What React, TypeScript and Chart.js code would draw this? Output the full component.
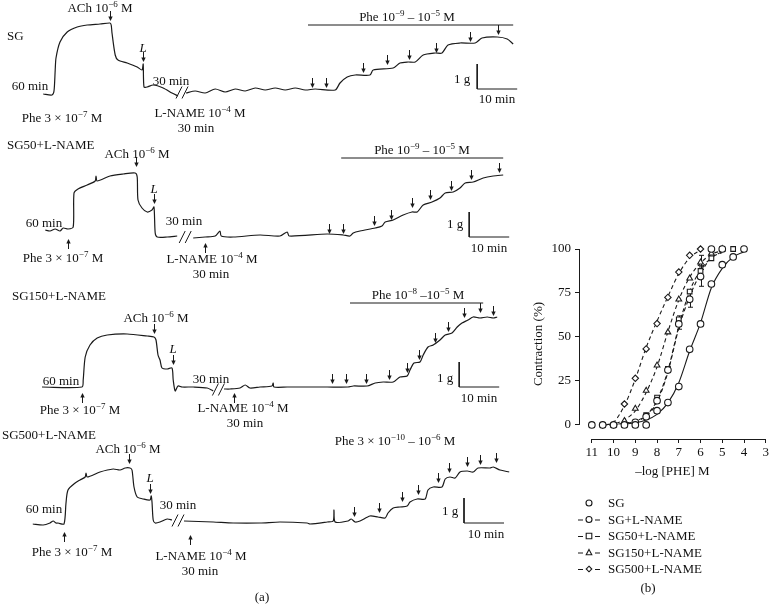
import React, { useEffect, useRef } from "react";
import { Chart, registerables } from "chart.js";
Chart.register(...registerables);

const SERIF = '"Liberation Serif", "Times New Roman", Times, serif';
const INK = "#1a1a1a";

// ================= Panel (b): concentration–response data =================
const xTicks = [11, 10, 9, 8, 7, 6, 5, 4, 3];
const yTicks = [0, 25, 50, 75, 100];
const seriesLabels = ["SG", "SG+L-NAME", "SG50+L-NAME", "SG150+L-NAME", "SG500+L-NAME"];

const sgX = [9, 8.5, 8, 7.5, 7, 6.5, 6, 5.5, 5, 4.5, 4];
const sgY = [0, 0, 8.1, 12.7, 21.8, 43, 57.4, 80.1, 91.1, 95.5, 100];
const sgErr = [0, 0, 0, 0, 0, 0, 0, 0, 0, 0, 0];
const sgFitX = [9.6, 9, 8.5, 8, 7.5, 7, 6.5, 6, 5.5, 5, 4.5, 4];
const sgFitY = [0.3, 1.2, 2.8, 6, 12.5, 24, 42, 58, 78, 89, 95.5, 98.5];

const sgLnX = [11, 10.5, 10, 9.5, 9, 8.5, 8, 7.5, 7, 6.5, 6, 5.5, 5];
const sgLnY = [0, 0, 0, 0, 1.5, 4.7, 13.8, 31.2, 57.4, 71.4, 84.3, 100, 100];
const sgLnErr = [0, 0, 0, 0, 0, 0, 0, 0, 3, 4.5, 5.5, 0, 0];
const sgLnFitX = [10, 9.5, 9, 8.5, 8, 7.5, 7, 6.5, 6, 5.5, 5];
const sgLnFitY = [0, 0.8, 2, 5, 13, 30, 55, 73, 86, 95, 98];

const sg50X = [11, 10.5, 10, 9.5, 9, 8.5, 8, 7.5, 7, 6.5, 6, 5.5, 5, 4.5];
const sg50Y = [0, 0, 0, 0, 1.3, 5.5, 15.5, 31.8, 60, 75.8, 87.5, 94.7, 100, 100];
const sg50Err = [0, 0, 0, 0, 0, 0, 0, 0, 2, 0, 3, 0, 0, 0];
const sg50FitX = [10.1, 9.5, 9, 8.5, 8, 7.5, 7, 6.5, 6, 5.5, 5];
const sg50FitY = [0, 1, 2.2, 5.5, 14, 31, 56, 76, 88, 95, 98.5];

const sg150X = [10, 9.5, 9, 8.5, 8, 7.5, 7, 6.5, 6, 5.5, 5];
const sg150Y = [0, 2.3, 9.3, 19.5, 33.9, 52.7, 71.4, 83.3, 92.4, 97.5, 100];
const sg150Err = [0, 0, 0, 0, 0, 0, 0, 0, 4, 0, 0];
const sg150FitX = [10.2, 10, 9.5, 9, 8.5, 8, 7.5, 7, 6.5, 6, 5.5, 5];
const sg150FitY = [0, 0.5, 3, 8, 18.5, 33, 53, 71, 84, 92, 97, 99];

const sg500X = [10.5, 10, 9.5, 9, 8.5, 8, 7.5, 7, 6.5, 6];
const sg500Y = [0, 0, 11.9, 26.5, 43.2, 57.6, 72.5, 86.9, 96.4, 100];
const sg500Err = [0, 0, 0, 0, 0, 0, 0, 0, 0, 0];
const sg500FitX = [10.35, 10, 9.5, 9, 8.5, 8, 7.5, 7, 6.5, 6];
const sg500FitY = [0, 1.5, 11, 26, 44, 59, 73, 86, 95, 99.5];

// ================= Panel (a): isometric tension traces (x = min, y = g) =================
const traceSG: [number, number | null][] = [
  [0.8, 0.04], [3, 0], [3.5, 0.16], [3.8, 1.0], [4, 1.48], [5, 2.12], [6.8, 2.52], [9.3, 2.72], [11.8, 2.8],
  [15, 2.84], [17.5, 2.88], [17.8, 2.8], [18, 2.48], [18.8, 1.6], [19.5, 1.4], [21.8, 1.28], [24.3, 1.12],
  [25.5, 1.0], [25.8, 1.24], [26, 0.32], [26.8, 0.32], [28.3, 0.4], [30.8, 0.28], [33, 0.08], [34.5, -0.04],
  [35.5, null],
  [36.5, 0.08], [38.8, 0.16], [41.3, 0.08], [43.8, 0.24], [46.3, 0.12], [48.8, 0.24], [51.3, 0.16], [53.8, 0.28],
  [56.3, 0.2], [58.8, 0.28], [61.3, 0.2], [63.8, 0.28], [66.3, 0.2], [68.8, 0.24], [73.8, 0.2], [75, 0.48],
  [76.8, 0.72], [78.8, 0.8], [82.5, 0.8], [83.3, 1.0], [88.3, 1.08], [90, 1.28], [92, 1.32], [93.8, 1.32],
  [95.8, 1.6], [98.8, 1.68], [100.5, 1.68], [102, 2.0], [105, 2.08], [108.8, 2.08], [110.5, 2.28],
  [114.3, 2.32], [116.8, 2.24], [118.3, 2.04],
];
const arrowsDownSG: [number, number][] = [
  [17.5, 2.96], [25.8, 1.32], [68, 0.28], [71.5, 0.28], [80.8, 0.88], [86.8, 1.2], [92.3, 1.4], [99, 1.68],
  [107.5, 2.12], [114.5, 2.4],
];
const arrowsUpSG: [number, number][] = [];
const pheBarSG = [67, 118.3, 2.8];
const scaleBarSG = [109.3, 0.24];
const breakSG = [35.5, 0.1];

const traceSG50: [number, number | null][] = [
  [1.3, 0.28], [2.5, 0.24], [3.8, 0.32], [5, 0.24], [5.8, 0.36], [7, 0.32], [8.3, 0.4], [8.5, 1.76], [9.5, 1.92],
  [11.8, 2.08], [13.8, 2.24], [14, 2.44], [14.3, 2.24], [17.5, 2.44], [20.8, 2.52], [23.8, 2.56], [24.3, 2.4],
  [24.5, 1.48], [25.5, 1.16], [26.8, 1.0], [28, 1.08], [28.5, 1.2], [28.8, 0.16], [29.3, 0], [31.8, 0],
  [34.3, 0.04],
  [36.3, null],
  [38.3, -0.04], [41.3, 0], [43.8, 0.04], [45, 0.24], [45.3, 0.04], [48.3, 0], [55, 0.08], [60, 0.04],
  [61.8, 0.2], [62.3, 0.04], [71.8, 0.12], [75.8, 0.08], [77.5, 0.04], [78.3, 0.16], [80, 0.24], [83.8, 0.36],
  [85.5, 0.44], [86.3, 0.6], [88.3, 0.68], [90.8, 0.88], [93, 1.0], [94.3, 1.0], [95.8, 1.28], [98, 1.4],
  [100, 1.56], [101.3, 1.76], [103.3, 1.8], [105, 1.96], [106.3, 2.16], [108.3, 2.2], [110.8, 2.36],
  [113.3, 2.44], [115.8, 2.48],
];
const arrowsDownSG50: [number, number][] = [
  [24, 2.8], [28.5, 1.32], [72.3, 0.12], [75.8, 0.12], [83.5, 0.44], [87.8, 0.68], [93, 1.16], [97.5, 1.48],
  [102.8, 1.84], [107.8, 2.28], [114.8, 2.56],
];
const arrowsUpSG50: [number, number][] = [[7, -0.08], [41.3, -0.24]];
const pheBarSG50 = [75.3, 115.8, 3.16];
const scaleBarSG50 = [107.3, 0];
const breakSG50 = [36.3, 0];

const traceSG150: [number, number | null][] = [
  [0.5, 0], [10.5, 0], [10.8, 0.28], [11.3, 1.2], [12.5, 1.68], [14.3, 1.96], [16.8, 2.08], [21.8, 2.12],
  [26.8, 2.04], [28.5, 2.0], [29, 1.88], [29.5, 1.28], [30, 1.08], [30.5, 0.76], [31.8, 0.72], [33, 0.76],
  [33.3, 0.28], [33.8, -0.16], [34.5, 0.04], [35.5, 0], [38.3, 0], [41.8, -0.04], [43.3, -0.16],
  [44.6, null],
  [46, -0.08], [47.5, -0.08], [50, -0.04], [51.3, 0.08], [52.5, -0.04], [55, 0], [58, 0.04], [58.3, 0.16],
  [58.5, 0], [61.8, 0], [71.8, 0], [77, 0], [78.3, 0.04], [81.8, 0.04], [83.8, 0.16], [85.8, 0.2], [88.3, 0.2],
  [90, 0.4], [91.8, 0.44], [92.5, 0.68], [93.5, 0.96], [95, 1.0], [95.8, 1.28], [97, 1.6], [98.3, 1.68],
  [100, 1.88], [101.3, 2.08], [103, 2.16], [104.3, 2.4], [105.5, 2.56], [107, 2.68], [108.3, 2.8], [110, 2.76],
  [111.8, 2.8], [113.3, 2.76], [114.3, 2.8],
];
const arrowsDownSG150: [number, number][] = [
  [28.5, 2.12], [33.3, 0.88], [73, 0.12], [76.5, 0.12], [81.5, 0.12], [87.3, 0.28], [91.8, 0.56], [94.8, 1.08],
  [98.8, 1.76], [102, 2.2], [106, 2.76], [110, 2.96], [113.3, 2.84],
];
const arrowsUpSG150: [number, number][] = [[10.5, -0.24], [48.5, -0.24]];
const pheBarSG150 = [77.5, 110.8, 3.36];
const scaleBarSG150 = [104.8, 0];
const breakSG150 = [44.6, -0.1];

const traceSG500: [number, number | null][] = [
  [-1.8, -0.04], [0.8, -0.08], [2.5, 0], [3.3, 0.08], [4, 0], [4.5, 0], [6, -0.04], [6.5, 0.8], [7, 1.32],
  [8.8, 1.6], [10, 1.72], [11.3, 1.84], [11.5, 2.0], [11.8, 1.84], [15, 2.04], [18.3, 2.16], [20, 2.12],
  [21.3, 2.2], [22.5, 2.2], [23, 2.12], [23.5, 1.44], [24.3, 1.04], [25.8, 0.96], [27.5, 0.92], [27.8, 1.08],
  [28, 0.84], [28.3, 0.12], [28.8, 0], [30, 0.04], [31.8, 0.16], [33, 0.12],
  [34.5, null],
  [36, 0.08], [43.3, 0.04], [48.3, 0], [55, 0], [60, 0.04], [66.8, 0], [67.5, -0.04], [71.8, 0.04], [73.3, 0.08],
  [73.5, 0.52], [73.8, 0.04], [77, 0.08], [77.8, 0.16], [78.8, 0.04], [80, 0.08], [82.5, 0.28], [84.5, 0.24],
  [86.3, 0.2], [87, 0.4], [88.3, 0.6], [90, 0.64], [91.8, 0.68], [92.5, 0.84], [94.3, 0.96], [96.3, 0.96],
  [97, 1.32], [98.3, 1.44], [100.5, 1.44], [101.3, 1.76], [102.5, 1.84], [103.8, 1.8], [105, 2.04],
  [106.8, 2.08], [108.3, 2.04], [109.5, 2.2], [112.5, 2.2], [113.3, 2.24], [115, 2.12], [117.3, 2.04],
];
const arrowsDownSG500: [number, number][] = [
  [22.3, 2.36], [27.5, 1.16], [78.5, 0.24], [84.8, 0.4], [90.5, 0.84], [94.5, 1.12], [99.5, 1.6], [102.3, 2.0],
  [106.8, 2.24], [110, 2.32], [114, 2.4],
];
const arrowsUpSG500: [number, number][] = [[6, -0.36], [37.5, -0.48]];
const pheBarSG500: number[] | null = null;
const scaleBarSG500 = [106, 0];
const breakSG500 = [34.5, 0.1];

// layout of the trace panels (page px)
const PANELS = [
  { top: 0, y0: 95, trace: traceSG, down: arrowsDownSG, up: arrowsUpSG, bar: pheBarSG, scale: scaleBarSG, brk: breakSG },
  { top: 140, y0: 237, trace: traceSG50, down: arrowsDownSG50, up: arrowsUpSG50, bar: pheBarSG50, scale: scaleBarSG50, brk: breakSG50 },
  { top: 280, y0: 387, trace: traceSG150, down: arrowsDownSG150, up: arrowsUpSG150, bar: pheBarSG150, scale: scaleBarSG150, brk: breakSG150 },
  { top: 420, y0: 523, trace: traceSG500, down: arrowsDownSG500, up: arrowsUpSG500, bar: pheBarSG500, scale: scaleBarSG500, brk: breakSG500 },
];
const PANEL_H = 140;
const PX_PER_G = 25;

function TracePanel({ p }: { p: any }) {
  const ref = useRef<HTMLCanvasElement>(null);
  useEffect(() => {
    if (!ref.current) return;
    const yMax = (p.y0 - p.top) / PX_PER_G;
    const yMin = -(p.top + PANEL_H - p.y0) / PX_PER_G;
    const base = { borderColor: INK, pointRadius: 0, fill: false, clip: false as any, spanGaps: false };
    const datasets: any[] = [
      { ...base, data: p.trace.map(([x, y]: any) => ({ x, y })), borderWidth: 1.2, tension: 0.25 },
      {
        ...base,
        data: [
          { x: p.scale[0], y: p.scale[1] + 1 },
          { x: p.scale[0], y: p.scale[1] },
          { x: p.scale[0] + 10, y: p.scale[1] },
        ],
        borderWidth: 1,
        tension: 0,
      },
    ];
    if (p.bar) {
      datasets.push({
        ...base,
        data: [
          { x: p.bar[0], y: p.bar[2] },
          { x: p.bar[1], y: p.bar[2] },
        ],
        borderWidth: 1,
        tension: 0,
      });
    }
    const marks = {
      id: "marks",
      afterDatasetsDraw(chart: any) {
        const { ctx } = chart;
        const xs = chart.scales.x;
        const ys = chart.scales.y;
        ctx.save();
        ctx.strokeStyle = INK;
        ctx.fillStyle = INK;
        ctx.lineWidth = 1;
        p.down.forEach(([t, g]: number[]) => {
          const px = Math.round(xs.getPixelForValue(t)) + 0.5;
          const py = ys.getPixelForValue(g);
          ctx.beginPath();
          ctx.moveTo(px, py - 10);
          ctx.lineTo(px, py - 3);
          ctx.stroke();
          ctx.beginPath();
          ctx.moveTo(px - 2.2, py - 4.5);
          ctx.lineTo(px + 2.2, py - 4.5);
          ctx.lineTo(px, py);
          ctx.closePath();
          ctx.fill();
        });
        p.up.forEach(([t, g]: number[]) => {
          const px = Math.round(xs.getPixelForValue(t)) + 0.5;
          const py = ys.getPixelForValue(g);
          ctx.beginPath();
          ctx.moveTo(px, py + 10);
          ctx.lineTo(px, py + 3);
          ctx.stroke();
          ctx.beginPath();
          ctx.moveTo(px - 2.2, py + 4.5);
          ctx.lineTo(px + 2.2, py + 4.5);
          ctx.lineTo(px, py);
          ctx.closePath();
          ctx.fill();
        });
        const bx = xs.getPixelForValue(p.brk[0]);
        const by = ys.getPixelForValue(p.brk[1]);
        [-3, 3].forEach((dx) => {
          ctx.beginPath();
          ctx.moveTo(bx + dx - 3, by + 6);
          ctx.lineTo(bx + dx + 3, by - 6);
          ctx.stroke();
        });
        ctx.restore();
      },
    };
    const chart = new Chart(ref.current, {
      type: "line",
      data: { datasets },
      options: {
        animation: false,
        responsive: false,
        maintainAspectRatio: false,
        events: [],
        layout: { padding: 0 },
        plugins: { legend: { display: false }, tooltip: { enabled: false } },
        scales: {
          x: { type: "linear", display: false, min: -10, max: 120 },
          y: { type: "linear", display: false, min: yMin, max: yMax },
        },
      },
      plugins: [marks],
    } as any);
    return () => chart.destroy();
  }, [p]);
  return (
    <canvas
      ref={ref}
      width={520}
      height={PANEL_H}
      style={{ position: "absolute", left: 0, top: p.top, width: 520, height: PANEL_H }}
    />
  );
}

const SERIES = [
  { label: seriesLabels[0], x: sgX, y: sgY, err: sgErr, fx: sgFitX, fy: sgFitY, style: "circle", dash: [] as number[], legendLine: false },
  { label: seriesLabels[1], x: sgLnX, y: sgLnY, err: sgLnErr, fx: sgLnFitX, fy: sgLnFitY, style: "circle", dash: [4, 3], legendLine: true },
  { label: seriesLabels[2], x: sg50X, y: sg50Y, err: sg50Err, fx: sg50FitX, fy: sg50FitY, style: "rect", dash: [4, 3], legendLine: true },
  { label: seriesLabels[3], x: sg150X, y: sg150Y, err: sg150Err, fx: sg150FitX, fy: sg150FitY, style: "triangle", dash: [4, 3], legendLine: true },
  { label: seriesLabels[4], x: sg500X, y: sg500Y, err: sg500Err, fx: sg500FitX, fy: sg500FitY, style: "rectRot", dash: [4, 3], legendLine: true },
];

function drawMarker(ctx: CanvasRenderingContext2D, style: string, x: number, y: number, r: number) {
  ctx.beginPath();
  if (style === "circle") ctx.arc(x, y, r, 0, Math.PI * 2);
  else if (style === "rect") ctx.rect(x - r, y - r, 2 * r, 2 * r);
  else if (style === "triangle") {
    ctx.moveTo(x, y - r * 1.1);
    ctx.lineTo(x + r, y + r * 0.8);
    ctx.lineTo(x - r, y + r * 0.8);
    ctx.closePath();
  } else {
    ctx.moveTo(x, y - r);
    ctx.lineTo(x + r, y);
    ctx.lineTo(x, y + r);
    ctx.lineTo(x - r, y);
    ctx.closePath();
  }
  ctx.fillStyle = "#fff";
  ctx.fill();
  ctx.stroke();
}

function CurveChart() {
  const ref = useRef<HTMLCanvasElement>(null);
  useEffect(() => {
    if (!ref.current) return;
    const datasets: any[] = [];
    SERIES.forEach((s) => {
      datasets.push({
        data: s.fx.map((x, i) => ({ x, y: s.fy[i] })),
        borderColor: INK,
        borderWidth: 1.1,
        borderDash: s.dash,
        pointRadius: 0,
        fill: false,
        cubicInterpolationMode: "monotone",
        clip: false,
        order: 3,
      });
      datasets.push({
        data: s.x.map((x, i) => ({ x, y: s.y[i] })),
        showLine: false,
        pointStyle: s.style,
        pointRadius: s.style === "rectRot" ? 3.2 : 3.3,
        pointBackgroundColor: "#fff",
        pointBorderColor: INK,
        pointBorderWidth: 1.1,
        clip: false,
        order: 1,
      });
    });
    const extras = {
      id: "extras",
      beforeDatasetsDraw(chart: any) {
        const { ctx } = chart;
        const xs = chart.scales.x;
        const ys = chart.scales.y;
        ctx.save();
        ctx.strokeStyle = INK;
        ctx.lineWidth = 1;
        SERIES.forEach((s) => {
          s.err.forEach((e, i) => {
            if (!e) return;
            const px = Math.round(xs.getPixelForValue(s.x[i])) + 0.5;
            const y1 = ys.getPixelForValue(s.y[i] - e);
            const y2 = ys.getPixelForValue(s.y[i] + e);
            ctx.beginPath();
            ctx.moveTo(px, y1);
            ctx.lineTo(px, y2);
            ctx.moveTo(px - 2.5, y1);
            ctx.lineTo(px + 2.5, y1);
            ctx.moveTo(px - 2.5, y2);
            ctx.lineTo(px + 2.5, y2);
            ctx.stroke();
          });
        });
        ctx.restore();
      },
      afterDraw(chart: any) {
        const { ctx } = chart;
        const xs = chart.scales.x;
        const ys = chart.scales.y;
        const ca = chart.chartArea;
        ctx.save();
        ctx.strokeStyle = INK;
        ctx.lineWidth = 1;
        // y axis line (0..100)
        const yl = Math.round(ca.left) + 0.5;
        ctx.beginPath();
        ctx.moveTo(yl, ys.getPixelForValue(yTicks[0]));
        ctx.lineTo(yl, ys.getPixelForValue(yTicks[yTicks.length - 1]));
        ctx.stroke();
        // x axis line (11..3)
        const xb = Math.round(ca.bottom) + 0.5;
        ctx.beginPath();
        ctx.moveTo(xs.getPixelForValue(xTicks[0]), xb);
        ctx.lineTo(xs.getPixelForValue(xTicks[xTicks.length - 1]), xb);
        ctx.stroke();
        // legend
        ctx.font = `13px ${SERIF}`;
        ctx.textBaseline = "middle";
        ctx.fillStyle = "#111";
        const rowY = [363, 379.5, 396, 412.5, 429];
        SERIES.forEach((s, i) => {
          const y = rowY[i];
          ctx.lineWidth = 1.1;
          if (s.legendLine) {
            ctx.beginPath();
            ctx.moveTo(58, y + 0.5);
            ctx.lineTo(63, y + 0.5);
            ctx.moveTo(75, y + 0.5);
            ctx.lineTo(80, y + 0.5);
            ctx.stroke();
          }
          drawMarker(ctx, s.style, 69, y, s.style === "circle" ? 3 : 2.8);
          ctx.fillStyle = "#111";
          ctx.fillText(s.label, 88, y + 1);
        });
        ctx.restore();
      },
    };
    const tickFont = { family: SERIF, size: 13 };
    const chart = new Chart(ref.current, {
      type: "line",
      data: { datasets },
      options: {
        animation: false,
        responsive: false,
        maintainAspectRatio: false,
        events: [],
        layout: { padding: { top: 109, right: 3, left: 0, bottom: 135 } },
        plugins: { legend: { display: false }, tooltip: { enabled: false } },
        scales: {
          x: {
            type: "linear",
            reverse: true,
            min: 3,
            max: 11.59,
            afterBuildTicks: (s: any) => {
              s.ticks = xTicks.map((v) => ({ value: v }));
            },
            afterFit: (s: any) => {
              s.height = 40;
            },
            grid: { drawOnChartArea: false, drawTicks: true, tickLength: 4, color: INK },
            border: { display: false },
            ticks: { font: tickFont, color: "#111", padding: 2, maxRotation: 0, autoSkip: false },
            title: { display: true, text: "–log [PHE] M", font: tickFont, color: "#111", padding: { top: 0, bottom: 0 } },
          },
          y: {
            type: "linear",
            min: -8,
            max: 100,
            afterBuildTicks: (s: any) => {
              s.ticks = yTicks.map((v) => ({ value: v }));
            },
            afterFit: (s: any) => {
              s.width = 59;
            },
            grid: { drawOnChartArea: false, drawTicks: true, tickLength: 4, color: INK },
            border: { display: false },
            ticks: { font: tickFont, color: "#111", padding: 4 },
            title: { display: true, text: "Contraction (%)", font: tickFont, color: "#111", padding: { top: 11, bottom: 0 } },
          },
        },
      },
      plugins: [extras],
    } as any);
    return () => chart.destroy();
  }, []);
  return (
    <canvas
      ref={ref}
      width={251}
      height={474}
      style={{ position: "absolute", left: 520, top: 140, width: 251, height: 474 }}
    />
  );
}

function Sup({ children }: any) {
  return <span style={{ fontSize: 9, position: "relative", top: -5 }}>{children}</span>;
}

function T({ x, y, children, it = false, left = false }: any) {
  return (
    <div
      style={{
        position: "absolute",
        left: x,
        top: y,
        transform: left ? "translate(0,-50%)" : "translate(-50%,-50%)",
        whiteSpace: "nowrap",
        fontFamily: SERIF,
        fontSize: 13,
        lineHeight: "15px",
        fontStyle: it ? "italic" : "normal",
        color: "#111",
      }}
    >
      {children}
    </div>
  );
}

export default function App() {
  return (
    <div style={{ position: "absolute", left: 0, top: 0, width: 771, height: 614, background: "#fff", overflow: "hidden" }}>
      {PANELS.map((p, i) => (
        <TracePanel key={i} p={p} />
      ))}
      <CurveChart />

      {/* Panel SG */}
      <T x={7} y={35} left>SG</T>
      <T x={100} y={8}>ACh 10<Sup>−6</Sup> M</T>
      <T x={143} y={47} it>L</T>
      <T x={30} y={85}>60 min</T>
      <T x={171} y={80}>30 min</T>
      <T x={62} y={118}>Phe 3 × 10<Sup>−7</Sup> M</T>
      <T x={200} y={113}>L-NAME 10<Sup>−4</Sup> M</T>
      <T x={196} y={127}>30 min</T>
      <T x={407} y={17}>Phe 10<Sup>−9</Sup> –  10<Sup>−5</Sup> M</T>
      <T x={462} y={78}>1 g</T>
      <T x={497} y={98}>10 min</T>

      {/* Panel SG50 */}
      <T x={7} y={144} left>SG50+L-NAME</T>
      <T x={137} y={154}>ACh 10<Sup>−6</Sup> M</T>
      <T x={154} y={188} it>L</T>
      <T x={44} y={222}>60 min</T>
      <T x={184} y={220}>30 min</T>
      <T x={63} y={258}>Phe 3 × 10<Sup>−7</Sup> M</T>
      <T x={212} y={259}>L-NAME 10<Sup>−4</Sup> M</T>
      <T x={211} y={273}>30 min</T>
      <T x={422} y={150}>Phe 10<Sup>−9</Sup> – 10<Sup>−5</Sup> M</T>
      <T x={455} y={223}>1 g</T>
      <T x={489} y={247}>10 min</T>

      {/* Panel SG150 */}
      <T x={12} y={295} left>SG150+L-NAME</T>
      <T x={156} y={318}>ACh 10<Sup>−6</Sup> M</T>
      <T x={173} y={348} it>L</T>
      <T x={61} y={380}>60 min</T>
      <T x={211} y={378}>30 min</T>
      <T x={80} y={410}>Phe 3 × 10<Sup>−7</Sup> M</T>
      <T x={243} y={408}>L-NAME 10<Sup>−4</Sup> M</T>
      <T x={245} y={422}>30 min</T>
      <T x={418} y={295}>Phe 10<Sup>−8</Sup> –10<Sup>−5</Sup> M</T>
      <T x={445} y={377}>1 g</T>
      <T x={479} y={397}>10 min</T>

      {/* Panel SG500 */}
      <T x={2} y={434} left>SG500+L-NAME</T>
      <T x={128} y={449}>ACh 10<Sup>−6</Sup> M</T>
      <T x={150} y={477} it>L</T>
      <T x={44} y={508}>60 min</T>
      <T x={178} y={504}>30 min</T>
      <T x={72} y={552}>Phe 3 × 10<Sup>−7</Sup> M</T>
      <T x={201} y={556}>L-NAME 10<Sup>−4</Sup> M</T>
      <T x={200} y={570}>30 min</T>
      <T x={395} y={441}>Phe 3 × 10<Sup>−10</Sup> –  10<Sup>−6</Sup> M</T>
      <T x={450} y={510}>1 g</T>
      <T x={486} y={533}>10 min</T>

      <T x={262} y={596}>(a)</T>
      <T x={648} y={587}>(b)</T>
    </div>
  );
}
